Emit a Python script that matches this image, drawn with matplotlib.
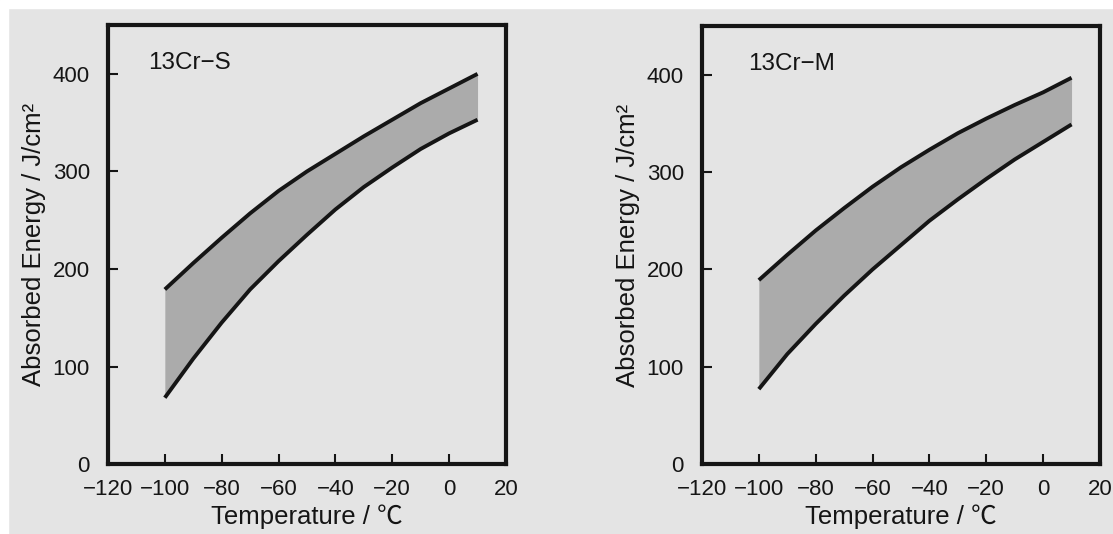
import matplotlib
matplotlib.use("Agg")
import matplotlib.pyplot as plt
from matplotlib.patches import Rectangle

plt.rcParams['font.family'] = ['Liberation Sans', 'Noto Sans CJK JP', 'DejaVu Sans']

# temperature points (°C)
temps = [-100, -90, -80, -70, -60, -50, -40, -30, -20, -10, 0, 10]

# 13Cr-S band (J/cm2)
s_upper = [179, 206, 232, 257, 280, 300, 318, 336, 353, 370, 385, 400]
s_lower = [68, 108, 145, 179, 208, 235, 261, 284, 304, 323, 339, 353]

# 13Cr-M band (J/cm2)
m_upper = [189, 215, 240, 263, 285, 305, 323, 340, 355, 369, 382, 397]
m_lower = [77, 113, 144, 173, 200, 225, 250, 272, 293, 313, 331, 349]

panels = ["13Cr\u2212S", "13Cr\u2212M"]
xticks = [-120, -100, -80, -60, -40, -20, 0, 20]
yticks = [0, 100, 200, 300, 400]

paper = '#e4e4e4'
band = '#ababab'
ink = '#151515'

fig = plt.figure(figsize=(11.13, 5.34), dpi=100, facecolor=paper)
# white scanner margin at top and left
fig.patches.append(Rectangle((0, 0.985), 1, 0.015, transform=fig.transFigure,
                             color='white', zorder=0))
fig.patches.append(Rectangle((0, 0), 0.007, 1, transform=fig.transFigure,
                             color='white', zorder=0))

axes_pos = [[0.0970, 0.131, 0.3576, 0.822],
            [0.6307, 0.131, 0.3576, 0.820]]
data = [(s_upper, s_lower), (m_upper, m_lower)]
title_x = [0.10, 0.116]

for pos, name, (up, lo), tx in zip(axes_pos, panels, data, title_x):
    ax = fig.add_axes(pos)
    ax.set_facecolor(paper)
    ax.fill_between(temps, lo, up, color=band, lw=0)
    ax.plot(temps, up, color=ink, lw=2.8, solid_capstyle='butt')
    ax.plot(temps, lo, color=ink, lw=2.8, solid_capstyle='butt')
    ax.set_xlim(-120, 20)
    ax.set_ylim(0, 450)
    ax.set_xticks(xticks)
    ax.set_yticks(yticks)
    ax.tick_params(direction='in', length=7, width=1.5, labelsize=16,
                   colors=ink)
    ax.tick_params(axis='x', pad=11)
    ax.tick_params(axis='y', pad=13)
    for sp in ax.spines.values():
        sp.set_linewidth(3)
        sp.set_color(ink)
    ax.text(tx, 0.90, name, transform=ax.transAxes, fontsize=17.5,
            color=ink, va='baseline')
    ax.set_xlabel("Temperature / \u2103", fontsize=18.5, color=ink,
                  labelpad=3)
    ax.set_ylabel("Absorbed Energy / J/cm\u00b2", fontsize=18.5,
                  color=ink, labelpad=5)

fig.savefig("out.png", dpi=100, facecolor=paper)
